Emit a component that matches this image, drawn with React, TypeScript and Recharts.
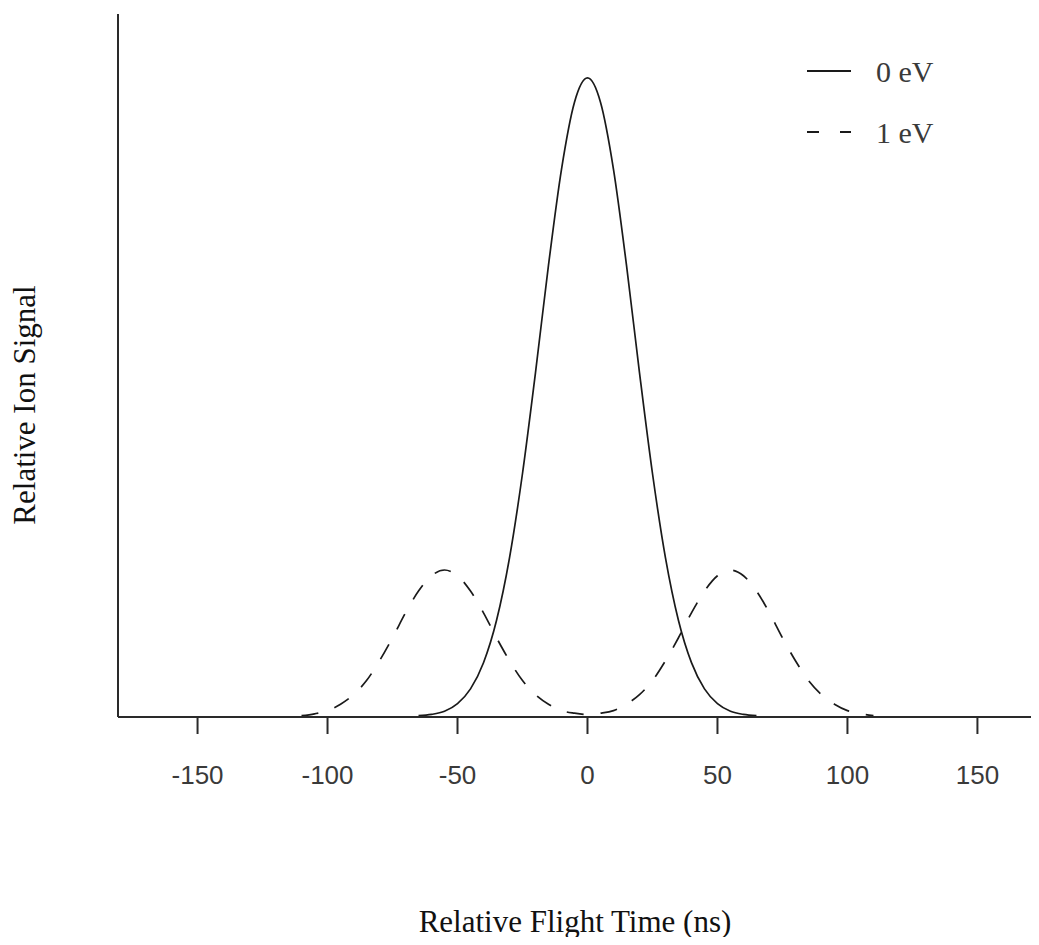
import React from "react";
import { LineChart, Line, XAxis, YAxis, Legend, Label } from "recharts";

// Relative flight time (ns) sample positions
const xValues = [
  -110, -105, -100, -95, -90, -85, -80, -75, -70, -65, -60, -55, -50, -45, -40,
  -35, -30, -25, -20, -15, -10, -5, 0, 5, 10, 15, 20, 25, 30, 35, 40, 45, 50,
  55, 60, 65, 70, 75, 80, 85, 90, 95, 100, 105, 110,
];

// 0 eV ion signal (relative)
const solidValues: (number | null)[] = [
  null, null, null, null, null, null, null, null, null, 0.002, 0.004, 0.009,
  0.021, 0.044, 0.085, 0.151, 0.249, 0.381, 0.539, 0.707, 0.857, 0.962, 1.0,
  0.962, 0.857, 0.707, 0.539, 0.381, 0.249, 0.151, 0.085, 0.044, 0.021, 0.009,
  0.004, 0.002, null, null, null, null, null, null, null, null, null,
];

// 1 eV ion signal (relative)
const dashedValues = [
  0.002, 0.005, 0.01, 0.02, 0.035, 0.057, 0.088, 0.124, 0.163, 0.197, 0.221,
  0.23, 0.221, 0.197, 0.163, 0.124, 0.088, 0.057, 0.035, 0.02, 0.01, 0.006,
  0.004, 0.006, 0.01, 0.02, 0.035, 0.057, 0.088, 0.124, 0.163, 0.197, 0.221,
  0.23, 0.221, 0.197, 0.163, 0.124, 0.088, 0.057, 0.035, 0.02, 0.01, 0.005,
  0.002,
];

const xTicks = [-150, -100, -50, 0, 50, 100, 150];
const seriesNames = ["0 eV", "1 eV"];
const xTitle = "Relative Flight Time (ns)";
const yTitle = "Relative Ion Signal";

const data = xValues.map((x, i) => ({
  x,
  solid: solidValues[i],
  dashed: dashedValues[i],
}));

const INK = "#1a1a1a";
const SERIF = "'Liberation Serif', 'Times New Roman', serif";

const legendDash: Record<string, string | undefined> = {
  solid: undefined,
  dashed: "12 21",
};

const LegendContent = (props: any) => {
  const payload = props.payload || [];
  return (
    <svg width={200} height={120}>
      {payload.map((entry: any, i: number) => {
        const cy = 31 + i * 61;
        return (
          <g key={i}>
            <line
              x1={8}
              x2={52}
              y1={cy}
              y2={cy}
              stroke={INK}
              strokeWidth={1.8}
              strokeDasharray={legendDash[entry.dataKey]}
            />
            <text
              x={77}
              y={cy + 11}
              fontFamily={SERIF}
              fontSize={30}
              fill="#3a3a3a"
            >
              {entry.value}
            </text>
          </g>
        );
      })}
    </svg>
  );
};

export default function App() {
  return (
    <div style={{ width: 1031, height: 937, marginBottom: -8 }}>
      <LineChart
        width={1031}
        height={937}
        data={data}
        margin={{ top: 6, right: 1, bottom: 0, left: 0 }}
      >
        <XAxis
          dataKey="x"
          type="number"
          domain={[-180.6, 173.3]}
          ticks={xTicks}
          allowDataOverflow
          height={228}
          tickSize={17}
          tickMargin={32}
          axisLine={{ stroke: "#2a2a2a", strokeWidth: 2 }}
          tickLine={{ stroke: "#2a2a2a", strokeWidth: 2 }}
          tick={{
            fill: "#3a3a3a",
            fontSize: 26,
            fontFamily: "'Liberation Sans', Arial, sans-serif",
          }}
        >
          <Label
            content={() => (
              <text
                x={567}
                y={924}
                textAnchor="middle"
                fontFamily={SERIF}
                fontSize={31}
                fill="#111"
              >
                {xTitle}
              </text>
            )}
          />
        </XAxis>
        <YAxis
          type="number"
          domain={[0, 1.1]}
          width={110}
          tick={false}
          tickLine={false}
          axisLine={{ stroke: "#2a2a2a", strokeWidth: 2 }}
        >
          <Label
            content={() => (
              <text
                x={27}
                y={397}
                transform="rotate(-90 27 397)"
                textAnchor="middle"
                fontFamily={SERIF}
                fontSize={31}
                fill="#111"
              >
                {yTitle}
              </text>
            )}
          />
        </YAxis>
        <Legend
          layout="vertical"
          align="center"
          verticalAlign="middle"
          wrapperStyle={{ left: 791, top: 32, width: 200, height: 120 }}
          content={LegendContent}
        />
        <Line
          dataKey="solid"
          name={seriesNames[0]}
          type="monotone"
          stroke={INK}
          strokeWidth={1.7}
          dot={false}
          activeDot={false}
          isAnimationActive={false}
        />
        <Line
          dataKey="dashed"
          name={seriesNames[1]}
          type="monotone"
          stroke={INK}
          strokeWidth={1.7}
          strokeDasharray="17 17"
          dot={false}
          activeDot={false}
          isAnimationActive={false}
        />
      </LineChart>
    </div>
  );
}
